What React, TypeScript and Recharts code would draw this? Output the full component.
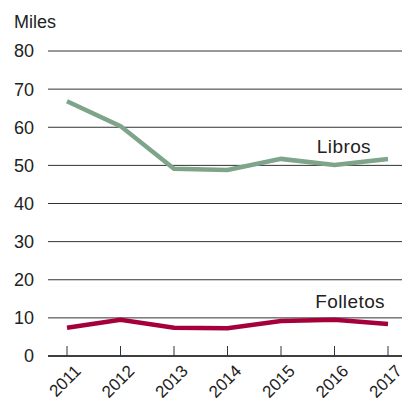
import React from 'react';
import {
  LineChart,
  Line,
  XAxis,
  YAxis,
  CartesianGrid,
  LabelList,
} from 'recharts';

const years = ['2011', '2012', '2013', '2014', '2015', '2016', '2017'];
const libros = [66.8, 60.3, 49.1, 48.8, 51.7, 50.1, 51.7];
const folletos = [7.4, 9.5, 7.4, 7.3, 9.2, 9.5, 8.4];
const yTicks = [0, 10, 20, 30, 40, 50, 60, 70, 80];

const data = years.map((year, i) => ({
  year,
  libros: libros[i],
  folletos: folletos[i],
}));

const FONT = '"Liberation Sans", Arial, Helvetica, sans-serif';
const GREEN = '#7ea48a';
const RED = '#a5003b';

function YearTick(props: any) {
  const { x, y, payload } = props;
  return (
    <g>
      <line x1={x} y1={y - 10} x2={x} y2={y} stroke="#333" strokeWidth={1} />
      <text
        x={x + 15}
        y={y + 16}
        textAnchor="end"
        fontSize={17}
        fontFamily={FONT}
        fill="#222"
        transform={`rotate(-45, ${x + 15}, ${y + 16})`}
      >
        {payload.value}
      </text>
    </g>
  );
}

function EndLabel(text: string, dx: number, dy: number) {
  return (props: any) => {
    const { x, y, index } = props;
    if (index !== years.length - 1) return null;
    return (
      <text
        x={x + dx}
        y={y + dy}
        textAnchor="end"
        fontSize={19}
        letterSpacing={0.4}
        fontFamily={FONT}
        fill="#222"
      >
        {text}
      </text>
    );
  };
}

export default function App() {
  return (
    <div style={{ position: 'absolute', left: 0, top: 0, width: 402, height: 402, background: '#fff' }}>
      <div
        style={{
          position: 'absolute',
          left: 14,
          top: 12,
          fontFamily: FONT,
          fontSize: 18,
          color: '#222',
        }}
      >
        Miles
      </div>
      <LineChart
        width={402}
        height={402}
        data={data}
        margin={{ top: 51, right: 0, bottom: 0, left: 0 }}
      >
        <CartesianGrid vertical={false} stroke="#333" strokeWidth={1} />
        <XAxis
          dataKey="year"
          height={46}
          padding={{ left: 19, right: 14 }}
          axisLine={{ stroke: '#222', strokeWidth: 1.3 }}
          tickLine={false}
          tickSize={0}
          tickMargin={0}
          interval={0}
          tick={<YearTick />}
        />
        <YAxis
          width={48}
          domain={[0, 80]}
          ticks={yTicks}
          axisLine={false}
          tickLine={false}
          tickSize={0}
          tickMargin={14}
          tick={{ fontSize: 18, fontFamily: FONT, fill: '#222' }}
        />
        <Line
          type="linear"
          dataKey="libros"
          stroke={GREEN}
          strokeWidth={4.5}
          dot={false}
          isAnimationActive={false}
        >
          <LabelList dataKey="libros" content={EndLabel('Libros', -17, -6)} />
        </Line>
        <Line
          type="linear"
          dataKey="folletos"
          stroke={RED}
          strokeWidth={4.5}
          dot={false}
          isAnimationActive={false}
        >
          <LabelList dataKey="folletos" content={EndLabel('Folletos', -3, -16)} />
        </Line>
      </LineChart>
    </div>
  );
}
